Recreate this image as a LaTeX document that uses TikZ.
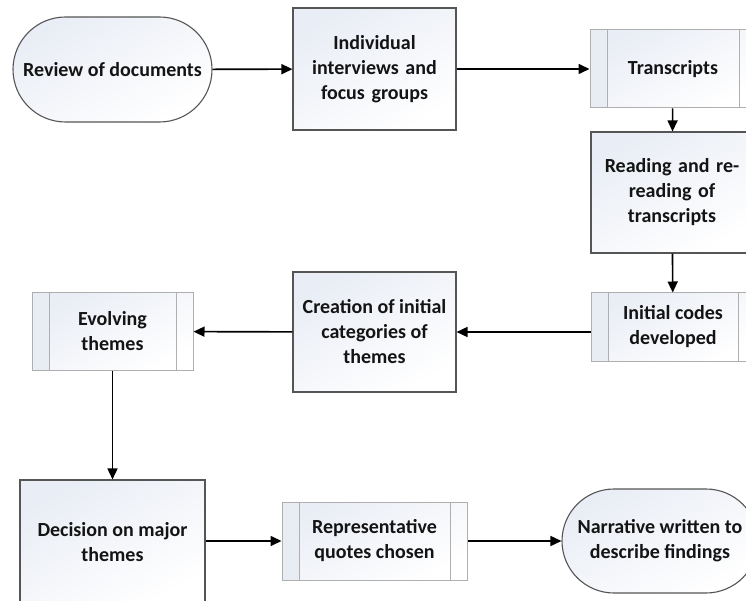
\documentclass[tikz,border=0pt]{standalone}
\usepackage{fontspec}
\setmainfont{Carlito}
\usetikzlibrary{shapes.misc,arrows.meta}
\definecolor{shadetop}{RGB}{233,237,245}
\definecolor{procborder}{RGB}{85,85,85}
\definecolor{predborder}{RGB}{175,175,175}
\definecolor{stripcol}{RGB}{232,236,243}
\definecolor{txt}{RGB}{20,20,20}
\tikzset{
  base/.style={inner sep=0pt, align=center, text=txt,
    font=\fontsize{20}{25}\selectfont\bfseries,
    top color=shadetop, bottom color=white, shading angle=30},
  proc/.style={base, rectangle, draw=procborder, line width=1.1pt},
  predef/.style={base, rectangle, draw=predborder, line width=1pt,
    path picture={
      \fill[stripcol] (path picture bounding box.north west) rectangle ([xshift=17pt]path picture bounding box.south west);
      \draw[predborder, line width=1pt] ([xshift=17pt]path picture bounding box.north west) -- ([xshift=17pt]path picture bounding box.south west);
      \draw[predborder, line width=1pt] ([xshift=-17pt]path picture bounding box.north east) -- ([xshift=-17pt]path picture bounding box.south east);
    }},
  term/.style={base, rounded rectangle, draw=procborder, line width=1.1pt},
  flow/.style={draw=black, line width=1.6pt, -{Triangle[length=11pt,width=10pt]}}
}
\begin{document}
\begin{tikzpicture}[x=1pt,y=-1pt]
\useasboundingbox (0,0) rectangle (746,601);
\clip (0,0) rectangle (746,601);
\node[term, minimum width=199pt, minimum height=105pt] (review) at (112.5,69.5) {Review of documents};
\node[proc, minimum width=163pt, minimum height=122pt, text width=155pt] (indiv) at (374.5,69) {Individual\\interviews and\\focus groups};
\node[predef, minimum width=166pt, minimum height=78pt] (trans) at (673,69) {Transcripts};
\node[proc, minimum width=162pt, minimum height=121pt, text width=155pt] (read) at (672,192.5) {Reading and re-\\reading of\\transcripts};
\node[predef, minimum width=164pt, minimum height=68pt] (init) at (673,327) {Initial codes\\developed};
\node[proc, minimum width=163pt, minimum height=120pt] (creat) at (374.5,332) {Creation of initial\\categories of\\themes};
\node[predef, minimum width=161pt, minimum height=77pt] (evolv) at (112.5,331.5) {Evolving\\themes};
\node[proc, minimum width=185pt, minimum height=124pt] (decis) at (112.5,542) {Decision on major\\themes};
\node[predef, minimum width=185pt, minimum height=78pt] (repr) at (374.5,541) {Representative\\quotes chosen};
\node[term, minimum width=196pt, minimum height=104pt] (narr) at (660,541) {Narrative written to\\describe findings};
\draw[flow] (review) -- (indiv);
\draw[flow] (indiv) -- (trans);
\draw[flow] (trans) -- (read);
\draw[flow] (read) -- (init);
\draw[flow] (init.west |- creat.east) -- (creat.east);
\draw[flow] (creat) -- (evolv);
\draw[flow] (evolv) -- (decis);
\draw[flow] (decis.east |- repr.west) -- (repr.west);
\draw[flow] (repr) -- (narr);
\end{tikzpicture}
\end{document}
